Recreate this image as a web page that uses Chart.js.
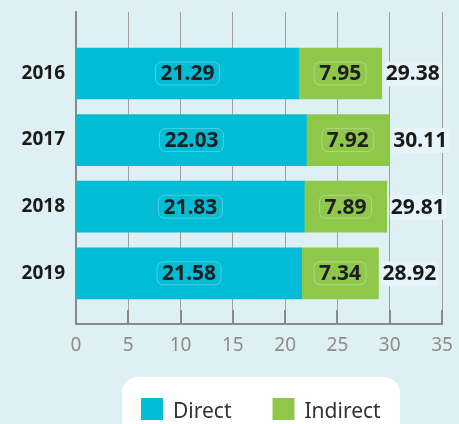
<!DOCTYPE html>
<html><head><meta charset="utf-8">
<script src="https://cdn.jsdelivr.net/npm/chart.js@4"></script>
<style>html,body{margin:0;padding:0;background:#dff0f5;} canvas{display:block}</style>
</head><body>
<canvas id="c" width="459" height="424"></canvas>
<script>
const years = [2016, 2017, 2018, 2019];
const direct = [21.29, 22.03, 21.83, 21.58];
const indirect = [7.95, 7.92, 7.89, 7.34];
const totals = [29.38, 30.11, 29.81, 28.92];
const seriesNames = ['Direct', 'Indirect'];
const xMin = 0, xMax = 35, xStep = 5;

const BG = '#dff0f5';
const COLORS = ['#00bcd4', '#8fc74a'];
const FONT = '"Noto Sans", "Open Sans", sans-serif';

function roundRect(ctx, x, y, w, h, r) {
  ctx.beginPath();
  ctx.moveTo(x + r, y);
  ctx.arcTo(x + w, y, x + w, y + h, r);
  ctx.arcTo(x + w, y + h, x, y + h, r);
  ctx.arcTo(x, y + h, x, y, r);
  ctx.arcTo(x, y, x + w, y, r);
  ctx.closePath();
}

const bgPlugin = {
  id: 'bg',
  beforeDraw(chart) {
    const ctx = chart.ctx;
    ctx.save();
    ctx.fillStyle = BG;
    ctx.fillRect(0, 0, chart.width, chart.height);
    ctx.restore();
  }
};

const labelPlugin = {
  id: 'vals',
  afterDatasetsDraw(chart) {
    const ctx = chart.ctx;
    ctx.save();
    ctx.font = 'bold 21px ' + FONT;
    ctx.textAlign = 'center';
    ctx.textBaseline = 'middle';
    chart.data.datasets.forEach((ds, di) => {
      const meta = chart.getDatasetMeta(di);
      meta.data.forEach((bar, i) => {
        const cx = (bar.x + bar.base) / 2, cy = bar.y;
        const txt = ds.data[i].toFixed(2);
        const w = ctx.measureText(txt).width + 10;
        roundRect(ctx, cx - w / 2, cy - 11.5, w, 23, 6);
        ctx.strokeStyle = 'rgba(255,255,255,0.3)';
        ctx.lineWidth = 1;
        ctx.stroke();
        ctx.fillStyle = '#1e1e1e';
        ctx.fillText(txt, cx, cy + 1);
      });
    });
    const last = chart.getDatasetMeta(chart.data.datasets.length - 1);
    ctx.textAlign = 'left';
    last.data.forEach((bar, i) => {
      const txt = totals[i].toFixed(2);
      const x = bar.x + 4;
      const w = ctx.measureText(txt).width;
      ctx.fillStyle = '#e5f4f8';
      roundRect(ctx, x - 1, bar.y - 12, w + 3, 25, 3);
      ctx.fill();
      ctx.fillStyle = '#1a1a1a';
      ctx.fillText(txt, x, bar.y + 1);
    });
    ctx.restore();
  }
};

const tickPlugin = {
  id: 'innerTicks',
  afterDraw(chart) {
    const ctx = chart.ctx, s = chart.scales.x, b = chart.chartArea.bottom;
    ctx.save();
    ctx.strokeStyle = '#8a8a8a';
    ctx.lineWidth = 2;
    s.ticks.forEach(t => {
      const px = Math.round(s.getPixelForValue(t.value));
      ctx.beginPath();
      ctx.moveTo(px, b - 14);
      ctx.lineTo(px, b);
      ctx.stroke();
    });
    ctx.restore();
  }
};

const legendPlugin = {
  id: 'customLegend',
  afterDraw(chart) {
    const ctx = chart.ctx;
    ctx.save();
    ctx.fillStyle = '#ffffff';
    roundRect(ctx, 122, 377, 278, 70, 16);
    ctx.fill();
    ctx.font = '21px ' + FONT;
    ctx.textBaseline = 'alphabetic';
    ctx.textAlign = 'left';
    let x = 141;
    chart.data.datasets.forEach((ds, i) => {
      ctx.fillStyle = ds.backgroundColor;
      ctx.fillRect(x, 398, 22, 22);
      ctx.fillStyle = '#333333';
      ctx.fillText(ds.label, x + 32, 418);
      x += 32 + ctx.measureText(ds.label).width + 41;
    });
    ctx.restore();
  }
};

new Chart(document.getElementById('c'), {
  type: 'bar',
  data: {
    labels: years,
    datasets: [
      { label: seriesNames[0], data: direct, backgroundColor: COLORS[0], barThickness: 51 },
      { label: seriesNames[1], data: indirect, backgroundColor: COLORS[1], barThickness: 51 }
    ]
  },
  options: {
    indexAxis: 'y',
    responsive: false,
    animation: false,
    layout: { padding: { top: 12, right: 17, bottom: 64, left: 0 } },
    plugins: { legend: { display: false }, tooltip: { enabled: false } },
    scales: {
      x: {
        type: 'linear', min: xMin, max: xMax, stacked: true,
        ticks: { stepSize: xStep, color: '#8c8c8c', font: { family: FONT, size: 19 }, padding: 10 },
        grid: { color: '#a0a0a0', lineWidth: 1, drawTicks: false },
        border: { display: true, color: '#8a8a8a', width: 2 },
        afterFit(s) { s.height = 36; s.paddingLeft = 0; s.paddingRight = 0; }
      },
      y: {
        type: 'linear', reverse: true, stacked: true, offset: false, bounds: 'data',
        min: years[0] - 0.923, max: years[years.length - 1] + 0.761,
        afterBuildTicks(s) { s.ticks = years.map(v => ({ value: v })); },
        ticks: { callback: v => String(v), color: '#1a1a1a', font: { family: FONT, size: 19, weight: 'bold' }, padding: 11 },
        grid: { display: false, drawTicks: false, offset: false },
        border: { display: true, color: '#8a8a8a', width: 2 },
        afterFit(s) { s.width = 76; s.paddingTop = 0; s.paddingBottom = 0; }
      }
    }
  },
  plugins: [bgPlugin, labelPlugin, tickPlugin, legendPlugin]
});
</script>
</body></html>
